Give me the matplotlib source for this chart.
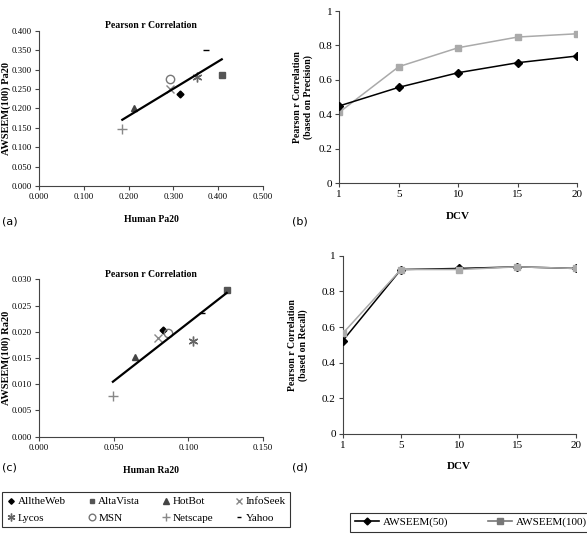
import numpy as np
import matplotlib
matplotlib.use("Agg")
import matplotlib.pyplot as plt
from matplotlib.lines import Line2D

plt.rcParams['font.family'] = ['Liberation Serif', 'DejaVu Serif']

# Data
engines = ['AlltheWeb', 'AltaVista', 'HotBot', 'InfoSeek', 'Lycos', 'MSN', 'Netscape', 'Yahoo']
human_pa20 = [0.315, 0.408, 0.213, 0.292, 0.352, 0.292, 0.186, 0.373]
awseem_pa20 = [0.238, 0.286, 0.200, 0.250, 0.281, 0.277, 0.147, 0.351]
human_ra20 = [0.0833, 0.1257, 0.0643, 0.0799, 0.1029, 0.0866, 0.0495, 0.109]
awseem_ra20 = [0.0203, 0.0280, 0.0152, 0.0189, 0.0182, 0.0197, 0.0078, 0.0235]

dcv = ['1', '5', '10', '15', '20']
prec_50 = [0.449, 0.557, 0.642, 0.700, 0.739]
prec_100 = [0.412, 0.677, 0.787, 0.849, 0.868]
rec_50 = [0.523, 0.923, 0.929, 0.938, 0.929]
rec_100 = [0.564, 0.923, 0.923, 0.938, 0.929]

# marker styles per engine
styles = {
    'AlltheWeb': dict(marker='D', color='black', ms=3.5, mfc='black'),
    'AltaVista': dict(marker='s', color='#555555', ms=4, mfc='#555555'),
    'HotBot': dict(marker='^', color='#444444', ms=5, mfc='#444444'),
    'InfoSeek': dict(marker='x', color='#888888', ms=6, mfc='none'),
    'Lycos': dict(marker=(6, 2, 0), color='#666666', ms=7, mfc='none'),
    'MSN': dict(marker='o', color='#777777', ms=6, mfc='none'),
    'Netscape': dict(marker='+', color='#888888', ms=7, mfc='none'),
    'Yahoo': dict(marker='_', color='black', ms=4, mfc='none'),
}

fig = plt.figure(figsize=(5.87, 5.40), dpi=100)


def style_axes(ax, size):
    for s in ['top', 'right']:
        ax.spines[s].set_visible(False)
    for s in ['left', 'bottom']:
        ax.spines[s].set_color('#444444')
        ax.spines[s].set_linewidth(0.8)
    ax.tick_params(direction='out', length=3, width=0.8, color='#444444', labelsize=size, pad=2)


def scatter_panel(ax, xs, ys, xticks, yticks, ylabel):
    for name, x, y in zip(engines, xs, ys):
        st = styles[name]
        ax.plot([x], [y], linestyle='none', marker=st['marker'], color=st['color'],
                ms=st['ms'], mfc=st['mfc'], mew=1.0)
    k, b = np.polyfit(xs, ys, 1)
    lx = np.array([min(xs), max(xs)])
    ax.plot(lx, k * lx + b, color='black', lw=1.6)
    ax.set_xlim(xticks[0], xticks[-1])
    ax.set_ylim(yticks[0], yticks[-1])
    ax.set_xticks(xticks)
    ax.set_yticks(yticks)
    ax.set_xticklabels(['%.3f' % v for v in xticks])
    ax.set_yticklabels(['%.3f' % v for v in yticks])
    ax.set_title('Pearson r Correlation', fontsize=7, fontweight='bold', pad=2)
    ax.set_ylabel(ylabel, fontsize=7.5, fontweight='bold')
    ax.yaxis.set_label_coords(-0.125, 0.5)
    style_axes(ax, 6.3)


def line_panel(ax, y50, y100, ylabel, lab_x, gray_on_top=False):
    xi = np.arange(len(dcv))
    z100 = 4 if gray_on_top else 2
    ax.plot(xi, y100, color='#aaaaaa', marker='s', ms=5, lw=1.1, zorder=z100)
    ax.plot(xi, y50, color='black', marker='D', ms=4, lw=1.1, zorder=3)
    ax.set_xlim(xi[0], xi[-1])
    ax.set_ylim(0, 1)
    ax.set_xticks(xi)
    ax.set_xticklabels(dcv)
    ax.set_yticks([0, 0.2, 0.4, 0.6, 0.8, 1])
    ax.set_yticklabels(['0', '0.2', '0.4', '0.6', '0.8', '1'])
    ax.set_ylabel(ylabel, fontsize=7, fontweight='bold')
    ax.yaxis.set_label_coords(lab_x, 0.5)
    style_axes(ax, 8)


ax_a = fig.add_axes([0.0664, 0.6556, 0.3816, 0.287])
scatter_panel(ax_a, human_pa20, awseem_pa20,
              [0.0, 0.1, 0.2, 0.3, 0.4, 0.5],
              [0.0, 0.05, 0.1, 0.15, 0.2, 0.25, 0.3, 0.35, 0.4],
              'AWSEEM(100) Pa20')
ax_a.set_xlabel('Human Pa20', fontsize=7, fontweight='bold', labelpad=10)

ax_b = fig.add_axes([0.578, 0.6606, 0.4055, 0.319])
line_panel(ax_b, prec_50, prec_100, 'Pearson r Correlation\n(based on Precision)', -0.11)
ax_b.set_xlabel('DCV', fontsize=8, fontweight='bold', labelpad=9)

ax_c = fig.add_axes([0.0664, 0.1913, 0.3816, 0.2915])
scatter_panel(ax_c, human_ra20, awseem_ra20,
              [0.0, 0.05, 0.1, 0.15],
              [0.0, 0.005, 0.01, 0.015, 0.02, 0.025, 0.03],
              'AWSEEM(100) Ra20')
ax_c.set_xlabel('Human Ra20', fontsize=7, fontweight='bold', labelpad=10)

ax_d = fig.add_axes([0.5838, 0.1963, 0.3969, 0.330])
line_panel(ax_d, rec_50, rec_100, 'Pearson r Correlation\n(based on Recall)', -0.15,
           gray_on_top=True)
ax_d.set_xlabel('DCV', fontsize=8, fontweight='bold', labelpad=9)

# panel letters
for lbl, x, y in [('(a)', 0.004, 0.585), ('(b)', 0.497, 0.585),
                  ('(c)', 0.004, 0.128), ('(d)', 0.497, 0.128)]:
    fig.text(x, y, lbl, fontsize=8, family='DejaVu Sans')

# engine legend
order = ['AlltheWeb', 'Lycos', 'AltaVista', 'MSN', 'HotBot', 'Netscape', 'InfoSeek', 'Yahoo']
handles = []
for name in order:
    st = styles[name]
    handles.append(Line2D([], [], linestyle='none', marker=st['marker'], color=st['color'],
                          ms=st['ms'] * 0.8, mfc=st['mfc'], mew=1.0, label=name))
leg1 = fig.legend(handles=handles, ncol=4, loc='center',
                  bbox_to_anchor=(0.004, 0.006, 0.49, 0.1), mode='expand',
                  fontsize=8, frameon=True, fancybox=False, edgecolor='black',
                  handlelength=0.8, handletextpad=0.2, columnspacing=0.5,
                  borderaxespad=0, labelspacing=0.6)
leg1.get_frame().set_linewidth(0.8)

# series legend
h2 = [Line2D([], [], color='black', marker='D', ms=3.5, lw=1.2, label='AWSEEM(50)'),
      Line2D([], [], color='#777777', marker='s', ms=4, lw=1.2, label='AWSEEM(100)')]
leg2 = fig.legend(handles=h2, ncol=2, loc='center',
                  bbox_to_anchor=(0.597, 0.01, 0.41, 0.046), mode='expand',
                  fontsize=8, frameon=True, fancybox=False, edgecolor='black',
                  handlelength=2.2, handletextpad=0.3, columnspacing=0.4,
                  borderaxespad=0)
leg2.get_frame().set_linewidth(0.8)

fig.savefig('out.png', dpi=100)
